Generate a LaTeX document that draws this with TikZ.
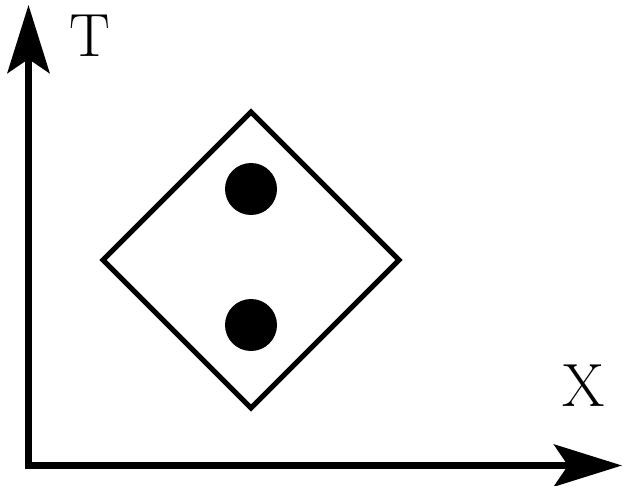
\documentclass[tikz,border=0pt]{standalone}
\usetikzlibrary{arrows.meta}
\begin{document}
\begin{tikzpicture}[x=1pt,y=-1pt,
  axis/.style={line width=7pt,-{Stealth[length=68pt,width=42pt,inset=14pt]}},
  lbl/.style={font=\fontsize{61}{66}\selectfont,inner sep=0pt},
  dot/.style={circle,fill=black,minimum size=52pt,inner sep=0pt}]
\useasboundingbox (0,0) rectangle (623,486);
\coordinate (o) at (28.5,465.5);
\coordinate (ty) at (28.5,5);
\coordinate (tx) at (622,465.5);
\draw[axis] (28.5,469) -- (ty);
\draw[axis] (25,465.5) -- (tx);
\node[lbl] (T) at (89.5,36) {T};
\node[lbl] (X) at (584,386) {X};
\draw[line width=5pt,miter limit=10] (251,112) -- (399,260) -- (251,408) -- (103,260) -- cycle;
\node[dot] (d1) at (251,189) {};
\node[dot] (d2) at (251,325) {};
\end{tikzpicture}
\end{document}
